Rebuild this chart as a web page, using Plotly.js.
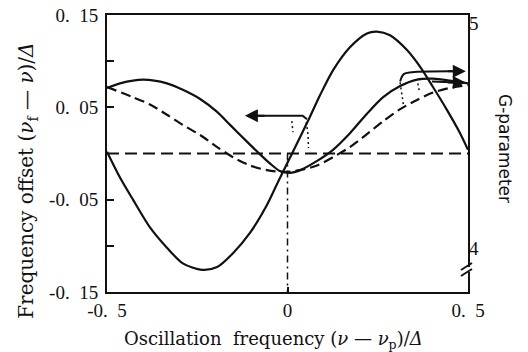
<!DOCTYPE html>
<html><head><meta charset="utf-8">
<script src="https://cdn.plot.ly/plotly-3.0.1.min.js"></script>
<style>html,body{margin:0;padding:0;background:#fff}#chart{width:528px;height:352px}</style>
</head><body><div id="chart"></div>
<script>
// Curve A: large solid oscillation (frequency offset)
const aX = [-0.5,-0.464,-0.428,-0.381,-0.334,-0.290,-0.237,-0.195,-0.151,-0.104,-0.060,-0.024,0.015,0.060,0.090,0.126,0.173,0.220,0.248,0.284,0.331,0.367,0.403,0.442,0.478,0.5];
const aY = [0.002,-0.026,-0.050,-0.080,-0.102,-0.119,-0.126,-0.123,-0.108,-0.086,-0.058,-0.029,0.002,0.038,0.063,0.090,0.115,0.130,0.132,0.128,0.112,0.094,0.072,0.047,0.022,0.004];
// Curve B: solid G-parameter-like curve
const bX = [-0.5,-0.464,-0.400,-0.334,-0.290,-0.242,-0.195,-0.159,-0.118,-0.084,-0.048,-0.021,0.007,0.035,0.082,0.126,0.173,0.220,0.265,0.312,0.359,0.403,0.450,0.5];
const bY = [0.071,0.076,0.080,0.076,0.069,0.059,0.045,0.031,0.015,0.002,-0.011,-0.019,-0.021,-0.018,-0.008,0.004,0.022,0.043,0.061,0.073,0.080,0.081,0.079,0.076];
// Curve C: dashed curve
const cX = [-0.5,-0.428,-0.381,-0.334,-0.290,-0.242,-0.195,-0.151,-0.104,-0.057,-0.012,0.035,0.082,0.126,0.173,0.220,0.265,0.312,0.359,0.403,0.450,0.5];
const cY = [0.072,0.061,0.053,0.042,0.031,0.020,0.007,-0.004,-0.013,-0.018,-0.020,-0.018,-0.013,-0.004,0.007,0.021,0.035,0.048,0.058,0.066,0.071,0.074];
// reference lines
const zeroX = [-0.5, 0.5], zeroY = [0, 0];
const vertX = [0, 0], vertY = [0, -0.15];
// arrows and dotted connectors (data units)
const leftArrowX = [0.054, 0.042, -0.10], leftArrowY = [0.037, 0.041, 0.041];
const leftTip = [-0.118, 0.041];
const upArrowX = [0.312, 0.322, 0.345, 0.47], upArrowY = [0.078, 0.086, 0.088, 0.089];
const upTip = [0.494, 0.089];
const lowArrowX = [0.40, 0.47], lowArrowY = [0.078, 0.077];
const lowTip = [0.494, 0.077];
const dot1X = [0.012, 0.015], dot1Y = [0.035, 0.023];
const dot2X = [0.052, 0.057, 0.058], dot2Y = [0.034, 0.020, 0.006];
const dot3X = [0.312, 0.318, 0.322], dot3Y = [0.077, 0.062, 0.050];
const dot4X = [0.361, 0.366], dot4Y = [0.076, 0.066];
// ticks
const xTickVals = [-0.5, 0, 0.5];
const xTickText = ['-0.\u20025', '0', '0.\u20025'];
const yTickVals = [-0.15, -0.1, -0.05, 0.05, 0.1, 0.15];
const yTickText = ['-0.\u200215', '', '-0.\u200205', '0.\u200205', '', '0.\u200215'];
const y2TickVals = [4, 5];
const y2TickText = ['4', '5'];

const K = '#111';
const solid = {color: K, width: 2.2, shape: 'spline', smoothing: 0.8};
const traces = [
  {x: zeroX, y: zeroY, mode: 'lines', line: {color: K, width: 2, dash: '12px,6px'}},
  {x: vertX, y: vertY, mode: 'lines', line: {color: K, width: 1.5, dash: '7px,4px,2px,4px'}},
  {x: aX, y: aY, mode: 'lines', line: solid},
  {x: bX, y: bY, mode: 'lines', line: solid},
  {x: cX, y: cY, mode: 'lines', line: {color: K, width: 2.2, dash: '10px,5px', shape: 'spline', smoothing: 0.8}},
  {x: leftArrowX, y: leftArrowY, mode: 'lines', line: {color: K, width: 2}},
  {x: upArrowX, y: upArrowY, mode: 'lines', line: {color: K, width: 2, shape: 'spline'}},
  {x: lowArrowX, y: lowArrowY, mode: 'lines', line: {color: K, width: 2}},
  {x: dot1X, y: dot1Y, mode: 'lines', line: {color: K, width: 1.5, dash: '2px,3px'}},
  {x: dot2X, y: dot2Y, mode: 'lines', line: {color: K, width: 1.5, dash: '2px,3px'}},
  {x: dot3X, y: dot3Y, mode: 'lines', line: {color: K, width: 1.5, dash: '2px,3px'}},
  {x: dot4X, y: dot4Y, mode: 'lines', line: {color: K, width: 1.5, dash: '2px,3px'}},
  {x: [], y: [], yaxis: 'y2', mode: 'lines'}
];

function arrow(tip, tailX, tailY) {
  return {x: tip[0], y: tip[1], ax: tailX, ay: tailY, xref: 'x', yref: 'y', axref: 'x', ayref: 'y',
    showarrow: true, arrowhead: 2, arrowsize: 1.3, arrowwidth: 2, arrowcolor: K, text: '', standoff: 0};
}

const serif = 'DejaVu Serif';
const layout = {
  width: 528, height: 352,
  margin: {l: 107, r: 60, t: 15, b: 60},
  paper_bgcolor: '#fff', plot_bgcolor: '#fff',
  showlegend: false,
  xaxis: {range: [-0.5, 0.5], showline: true, linewidth: 2, linecolor: K, mirror: true,
    ticks: 'inside', ticklen: 5, tickwidth: 2, tickcolor: K,
    tickvals: xTickVals, ticktext: xTickText, showgrid: false, zeroline: false,
    tickfont: {family: 'Liberation Serif', size: 19, color: K}},
  yaxis: {range: [-0.15, 0.15], showline: true, linewidth: 2, linecolor: K, mirror: true,
    ticks: 'inside', ticklen: 7, tickwidth: 2, tickcolor: K, ticklabelstandoff: 3,
    tickvals: yTickVals, ticktext: yTickText, showgrid: false, zeroline: false,
    tickfont: {family: 'Liberation Serif', size: 19, color: K}},
  yaxis2: {overlaying: 'y', side: 'right', range: [3.8044, 5.0356], showline: false,
    ticks: '', tickvals: y2TickVals, ticktext: y2TickText, showgrid: false, zeroline: false,
    tickfont: {family: 'Liberation Serif', size: 19, color: K}},
  annotations: [
    arrow(leftTip, -0.06, 0.041),
    arrow(upTip, 0.44, 0.089),
    arrow(lowTip, 0.44, 0.077),
    {xref: 'paper', yref: 'paper', x: -0.22, y: 0.40, textangle: -90, showarrow: false,
      xanchor: 'center', yanchor: 'middle',
      text: 'Frequency offset (<i>ν</i><sub>f</sub> — <i>ν</i>)/<i>Δ</i>',
      font: {family: serif, size: 20, color: K}},
    {xref: 'paper', yref: 'paper', x: 0.4626, y: -0.173, showarrow: false,
      xanchor: 'center', yanchor: 'middle',
      text: 'Oscillation\u00a0\u00a0frequency (<i>ν</i> — <i>ν</i><sub>p</sub>)/<i>Δ</i>',
      font: {family: serif, size: 18, color: K}},
    {xref: 'paper', yref: 'paper', x: 1.1025, y: 0.52, textangle: 90, showarrow: false,
      xanchor: 'center', yanchor: 'middle',
      text: 'G-parameter', font: {family: 'DejaVu Sans', size: 17, color: K}}
  ],
  shapes: [
    {type: 'line', xref: 'paper', yref: 'paper', x0: 1, x1: 1, y0: 0.072, y1: 0.09, line: {color: '#fff', width: 4}},
    {type: 'line', xref: 'paper', yref: 'paper', x0: 0.9806, x1: 1.011, y0: 0.0794, y1: 0.1047, line: {color: K, width: 2}},
    {type: 'line', xref: 'paper', yref: 'paper', x0: 0.9806, x1: 1.011, y0: 0.0578, y1: 0.083, line: {color: K, width: 2}}
  ]
};

Plotly.newPlot('chart', traces, layout, {staticPlot: true, displayModeBar: false});
</script></body></html>
